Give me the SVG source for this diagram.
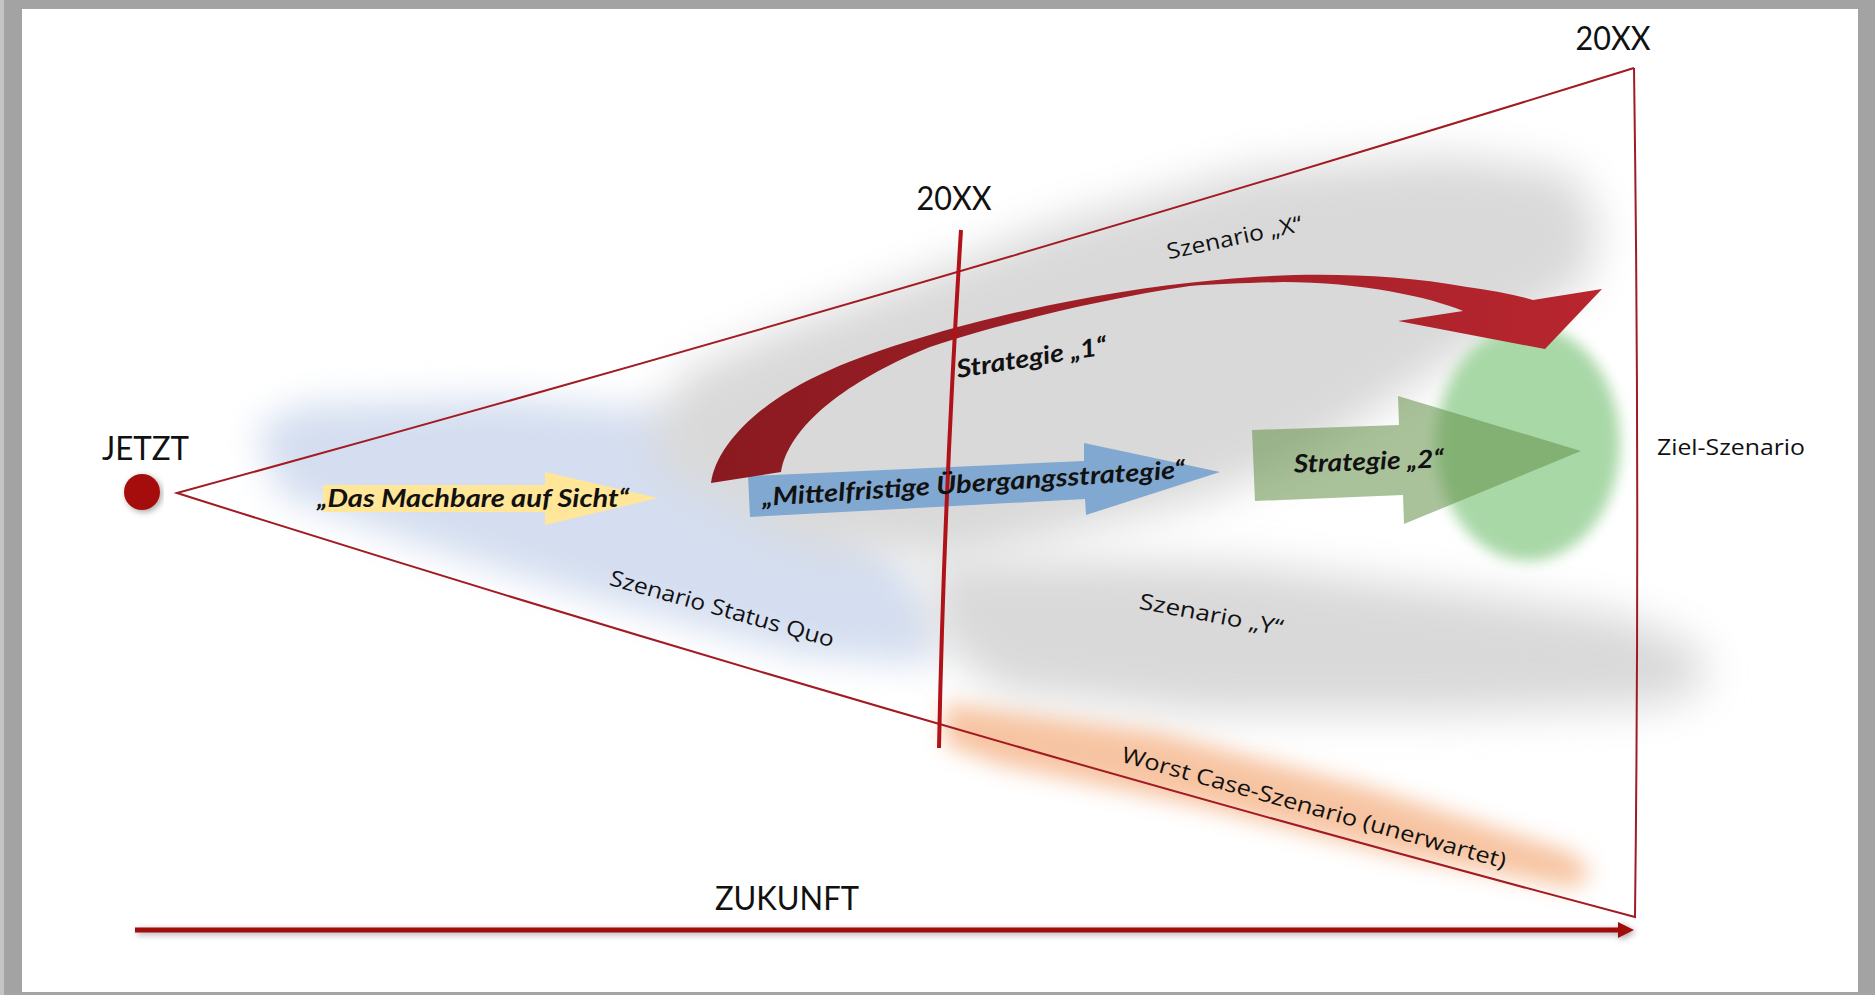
<svg xmlns="http://www.w3.org/2000/svg" width="1875" height="995" viewBox="0 0 1875 995">
<style>
.h{font-family:Lato,"Open Sans","Liberation Sans",sans-serif;font-size:32px;fill:#111}
.s{font-family:"Open Sans","Liberation Sans",sans-serif;font-size:22px;fill:#111}
.b{font-family:Lato,"Open Sans","Liberation Sans",sans-serif;font-weight:bold;font-style:italic;font-size:25px;fill:#111}
.cone{fill:none;stroke:#a31b22;stroke-width:2}
</style>
<defs>
<filter id="bl22" x="-50%" y="-50%" width="200%" height="200%"><feGaussianBlur stdDeviation="22"/></filter>
<filter id="bl18" x="-50%" y="-50%" width="200%" height="200%"><feGaussianBlur stdDeviation="18"/></filter>
<filter id="bl11" x="-50%" y="-50%" width="200%" height="200%"><feGaussianBlur stdDeviation="11"/></filter>
<filter id="bl7" x="-50%" y="-50%" width="200%" height="200%"><feGaussianBlur stdDeviation="7"/></filter>
<filter id="sh" x="-10%" y="-200%" width="120%" height="500%"><feDropShadow dx="2" dy="2" stdDeviation="3" flood-color="#000" flood-opacity="0.35"/></filter>
<linearGradient id="redg" x1="711" y1="0" x2="1602" y2="0" gradientUnits="userSpaceOnUse">
<stop offset="0" stop-color="#8a1a20"/><stop offset="0.45" stop-color="#a01f27"/><stop offset="1" stop-color="#b8262f"/>
</linearGradient>
</defs>
<g id="frame">
<rect x="0" y="0" width="1875" height="995" fill="#a3a3a3"/>
<rect x="0" y="0" width="4" height="995" fill="#c4c4c4"/>
<rect x="22" y="9" width="1836" height="983" fill="#ffffff"/>
</g>
<g id="hazes">
<polygon points="255,430 300,405 500,398 660,410 760,470 900,560 940,620 930,665 800,655 600,600 420,545 280,495" fill="#d4def0" filter="url(#bl18)"/>
<polygon points="660,470 650,420 690,370 780,330 900,285 1060,222 1250,170 1450,156 1570,172 1600,222 1585,285 1500,330 1400,395 1300,460 1200,500 1100,525 960,560 800,545" fill="#d9d9d9" filter="url(#bl22)"/>
<polygon points="930,560 1100,560 1250,565 1450,590 1620,615 1700,648 1705,690 1650,706 1450,713 1200,713 1000,692 935,640" fill="#d9d9d9" filter="url(#bl22)"/>
<polygon points="945,703 1160,733 1370,788 1570,852 1592,872 1575,888 1400,856 1200,806 1000,765 945,745" fill="#f4b183" opacity="0.75" filter="url(#bl11)"/>
</g>
<g id="ziel">
<ellipse cx="1528" cy="443" rx="92" ry="118" fill="#a9d8a7" filter="url(#bl7)"/>
</g>
<g id="cone">
<path class="cone" d="M1634,68 Q905,294 177,493 Q900,722 1635,917 Q1640,490 1634,68"/>
</g>
<g id="machbar">
<polygon points="323,485 545,485 545,472 658,498 545,525 545,512 323,512" fill="#ffe699"/>
</g>
<g id="mittel">
<polygon points="748,476 1084,461 1084,443 1220,472 1086,515 1085,499 750,517" fill="#80a8d0"/>
</g>
<g id="strat2">
<polygon points="1252,430 1399,425 1398,396 1581,451 1404,524 1403,495 1255,501" fill="#66924b" opacity="0.56"/>
</g>
<g id="strat1">
<path fill="url(#redg)" d="M711,483 C716,445 760,400 830,370 C880,348 960,325 1023,311 C1090,296 1150,286 1217,280 C1283,273 1380,271 1467,287 Q1505,292 1533,300 L1602,289 L1545,349 L1398,321 L1463,311 C1430,297 1360,282 1283,282 C1250,283 1215,284 1190,286 C1100,299 1000,324 930,347 C860,375 790,420 781,472 Z"/>
</g>
<g id="connectors">
<path d="M961,230 Q944,500 939,748" fill="none" stroke="#b0121a" stroke-width="4"/>
<g filter="url(#sh)">
<line x1="135" y1="930" x2="1621" y2="930" stroke="#a00d0d" stroke-width="5"/>
<polygon points="1618,922 1634,930 1618,938" fill="#a00d0d"/>
</g>
</g>
<g id="jetzt">
<circle cx="142" cy="492" r="18" fill="#a50e0e" filter="url(#sh)"/>
<text class="h" x="145.5" y="460" text-anchor="middle" textLength="87" lengthAdjust="spacingAndGlyphs">JETZT</text>
</g>
<g id="labels">
<text class="h" x="954" y="210" text-anchor="middle" textLength="75" lengthAdjust="spacingAndGlyphs">20XX</text>
<text class="h" x="1613" y="50" text-anchor="middle" textLength="75" lengthAdjust="spacingAndGlyphs">20XX</text>
<text class="h" x="787" y="910" text-anchor="middle" textLength="144" lengthAdjust="spacingAndGlyphs">ZUKUNFT</text>
<text class="s" x="1731" y="455" text-anchor="middle" font-size="23" textLength="148" lengthAdjust="spacingAndGlyphs">Ziel-Szenario</text>
<text class="s" transform="translate(1236,245) rotate(-12)" text-anchor="middle" textLength="138" lengthAdjust="spacingAndGlyphs">Szenario „X“</text>
<text class="s" transform="translate(720,616) rotate(15.6)" text-anchor="middle" font-size="23" textLength="232" lengthAdjust="spacingAndGlyphs">Szenario Status Quo</text>
<text class="s" transform="translate(1210,622) rotate(10.7)" text-anchor="middle" textLength="146" lengthAdjust="spacingAndGlyphs">Szenario „Y“</text>
<text class="s" transform="translate(1312,815) rotate(15.6)" text-anchor="middle" font-size="23" textLength="398" lengthAdjust="spacingAndGlyphs">Worst Case-Szenario (unerwartet)</text>
<text class="b" x="473" y="507" text-anchor="middle" font-size="24" textLength="312" lengthAdjust="spacingAndGlyphs">„Das Machbare auf Sicht“</text>
<text class="b" transform="translate(974,492) rotate(-3.8)" text-anchor="middle" textLength="424" lengthAdjust="spacingAndGlyphs">„Mittelfristige Übergangsstrategie“</text>
<text class="b" transform="translate(1033,366) rotate(-9.1)" text-anchor="middle" textLength="152" lengthAdjust="spacingAndGlyphs">Strategie „1“</text>
<text class="b" transform="translate(1369,470) rotate(-2)" text-anchor="middle" textLength="150" lengthAdjust="spacingAndGlyphs">Strategie „2“</text>
</g>
</svg>
